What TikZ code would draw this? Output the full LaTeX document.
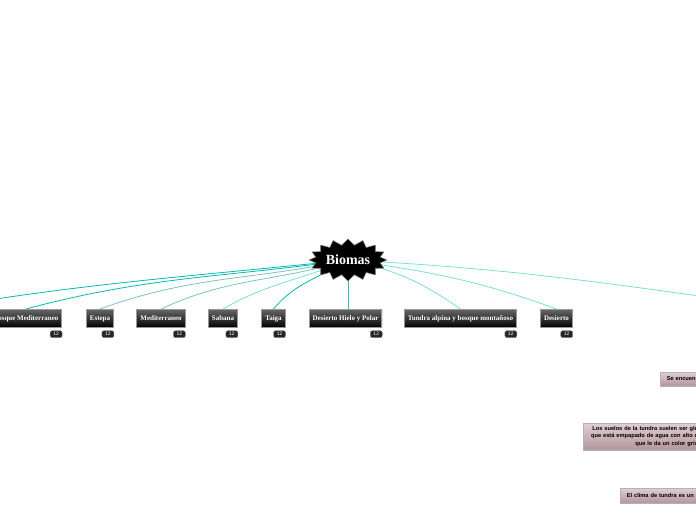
\documentclass[tikz,border=0pt]{standalone}
\usepackage{fontspec}
\setmainfont{Liberation Serif}
\newfontfamily\notefont{Liberation Sans}
\usetikzlibrary{shapes.symbols,positioning,shadows,backgrounds}

\definecolor{linkdark}{RGB}{0,186,176}
\definecolor{linkgray}{RGB}{120,196,190}
\definecolor{linklight}{RGB}{125,222,212}
\definecolor{notetop}{RGB}{226,206,210}
\definecolor{notebot}{RGB}{178,150,157}

\begin{document}
\begin{tikzpicture}[
    x=1pt,y=1pt,
    hub/.style={starburst, starburst points=16, starburst point height=6pt, random starburst=0,
        fill=black, draw=black!55, line width=0.6pt, minimum width=60pt, minimum height=42pt,
        inner sep=1pt, text=white, font=\bfseries\fontsize{14}{16}\selectfont},
    topic/.style={draw=black!40, line width=1pt, top color=black!60, bottom color=black,
        minimum height=18pt, inner xsep=3.5pt, text=white, font=\bfseries\fontsize{7}{8}\selectfont,
        drop shadow={shadow xshift=0.6pt, shadow yshift=-0.8pt, opacity=0.25}},
    badge/.style={fill=black!85, draw=black!45, rounded corners=2pt, inner sep=0pt,
        minimum width=12pt, minimum height=7pt, text=white, font=\notefont\fontsize{5}{5}\selectfont},
    note/.style={draw=black!30, line width=0.6pt, top color=notetop, bottom color=notebot,
        inner xsep=6.5pt, inner ysep=2pt, font=\notefont\bfseries\fontsize{5.7}{7.3}\selectfont,
        drop shadow={shadow xshift=0pt, shadow yshift=-1pt, opacity=0.2}},
    link/.style={line width=0.8pt, draw=linklight}
]
    \useasboundingbox (0,0) rectangle (696,520);
    \clip (0,0) rectangle (696,520);

    \node[hub] (bio) at (348,260) {Biomas};

    % first row of biomes
    \node[topic] (bmed) at (26,201.5) {Bosque Mediterraneo};
    \node[topic] (estepa) at (100,201.5) {Estepa};
    \node[topic] (medit) at (161,201.5) {Mediterraneo};
    \node[topic] (sabana) at (223,201.5) {Sabana};
    \node[topic] (taiga) at (273.5,201.5) {Taiga};
    \node[topic] (dhp) at (345.5,201.5) {Desierto Hielo y Polar};
    \node[topic] (tundra) at (460.5,201.5) {Tundra alpina y bosque montañoso};
    \node[topic] (desierto) at (556.5,201.5) {Desierto};

    \foreach \n in {bmed,estepa,medit,sabana,taiga,dhp,tundra,desierto}
        \node[badge, below left=2.5pt and 0pt of \n.south east] (\n-cnt) {12};

    \coordinate (farleft) at (-90,207);
    \coordinate (farright) at (770,214);

    % notes on the right
    \node[note, anchor=west, minimum height=14pt, text width=34pt] (nsitio) at (660,141) {Se encuen};
    \node[note, anchor=west, align=right, minimum height=27pt, text width=108pt] (nsuelo) at (583,83.5)
        {Los suelos de la tundra suelen ser gle\\que está empapado de agua con alto c\\que le da un color gris};
    \node[note, anchor=west, minimum height=15pt, text width=72pt] (nclima) at (620,24.5) {El clima de tundra es un};

    \begin{pgfonlayer}{background}
        \draw[link, draw=linkdark] (bio.center) to[out=186, in=10] (farleft);
        \draw[link, draw=linkdark] (bio.center) to[out=188, in=15] (bmed.north);
        \draw[link, draw=linkgray] (bio.center) to[out=192, in=20] (estepa.north);
        \draw[link, draw=linkgray] (bio.center) to[out=197, in=25] (medit.north);
        \draw[link] (bio.center) to[out=203, in=30] (sabana.north);
        \draw[link, draw=linkdark] (bio.center) to[out=212, in=50] (taiga.north);
        \draw[link, draw=linkdark!85] (bio.center) -- (bio.center |- dhp.north);
        \draw[link] (bio.center) to[out=-12, in=145] (tundra.north);
        \draw[link] (bio.center) to[out=-8, in=160] (desierto.north);
        \draw[link] (bio.center) to[out=-3, in=172] (farright);
    \end{pgfonlayer}
\end{tikzpicture}
\end{document}
